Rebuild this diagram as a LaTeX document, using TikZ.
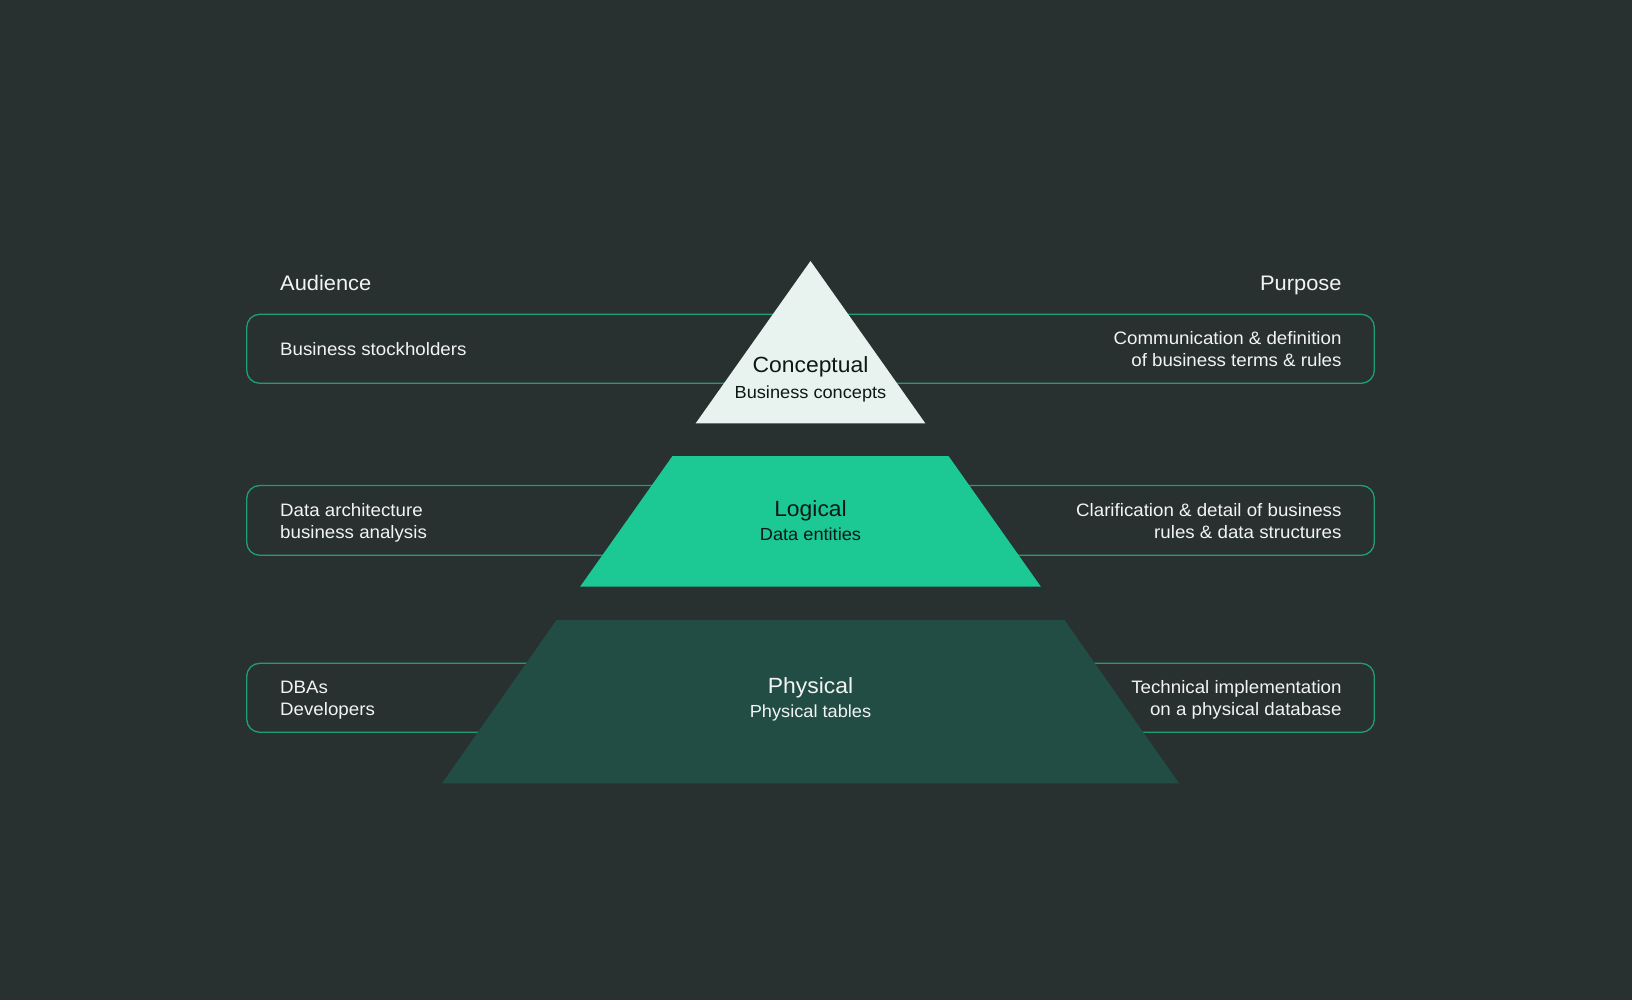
\documentclass[tikz,border=0pt]{standalone}
\usepackage{fontspec}
\setmainfont[FakeStretch=1.04]{Liberation Sans}
\definecolor{bgdark}{HTML}{293030}
\definecolor{rimgreen}{HTML}{1F9E76}
\definecolor{paletop}{HTML}{E8F2EE}
\definecolor{midgreen}{HTML}{1CC894}
\definecolor{deepgreen}{HTML}{224D44}
\definecolor{lighttext}{HTML}{F2F4F3}
\definecolor{darktext}{HTML}{0E1815}
\tikzset{
  rowbox/.style={draw=rimgreen, line width=1.3pt, rounded corners=13pt},
  heading/.style={inner sep=0pt, text=lighttext, font=\fontsize{21}{25}\selectfont},
  lefttext/.style={inner sep=0pt, anchor=base west, align=left, text=lighttext,
    font=\fontsize{18}{22.3}\selectfont},
  righttext/.style={inner sep=0pt, anchor=base east, align=right, text=lighttext,
    font=\fontsize{18}{22.3}\selectfont},
  levelname/.style={inner sep=0pt, anchor=base, font=\fontsize{22}{26}\selectfont},
  levelsub/.style={inner sep=0pt, anchor=base, font=\fontsize{17.5}{21}\selectfont},
}
\begin{document}
\begin{tikzpicture}[x=1pt,y=-1pt]
\useasboundingbox (0,0) rectangle (1632,1000);
\fill[bgdark] (0,0) rectangle (1632,1000);

% column headings
\node[heading, anchor=base west] (audience) at (280,290.7) {Audience};
\node[heading, anchor=base east] (purpose) at (1341.7,290.7) {Purpose};

% row frames, drawn under the pyramid
\draw[rowbox] (246.7,314.3) rectangle (1374.3,383.3);
\draw[rowbox] (246.7,485.5) rectangle (1374.3,555.3);
\draw[rowbox] (246.7,663.3) rectangle (1374.3,732.3);

% pyramid layers
\fill[paletop] (810.5,261) -- (925.3,423.3) -- (695.7,423.3) -- cycle;
\fill[midgreen] (672.5,456) -- (948.5,456) -- (1040.9,586.7) -- (580.1,586.7) -- cycle;
\fill[deepgreen] (556.5,620) -- (1064.5,620) -- (1179,783.3) -- (442,783.3) -- cycle;

% layer labels
\node[levelname, text=darktext] (concname) at (810.5,372.7) {Conceptual};
\node[levelsub, text=darktext] (concsub) at (810.5,398.3) {Business concepts};
\node[levelname, text=darktext] (logname) at (810.5,516) {Logical};
\node[levelsub, text=darktext] (logsub) at (810.5,540) {Data entities};
\node[levelname, text=lighttext] (physname) at (810.5,693.3) {Physical};
\node[levelsub, text=lighttext] (physsub) at (810.5,717.3) {Physical tables};

% audience column (multi-line nodes sit on their last baseline)
\node[lefttext] (aud1) at (280,355) {Business stockholders};
\node[lefttext] (aud2) at (280,538.3) {Data architecture\\business analysis};
\node[lefttext] (aud3) at (280,715.7) {DBAs\\Developers};

% purpose column
\node[righttext] (pur1) at (1341.7,366.7) {Communication \& definition\\of business terms \& rules};
\node[righttext] (pur2) at (1341.7,538.3) {Clarification \& detail of business\\rules \& data structures};
\node[righttext] (pur3) at (1341.7,715.7) {Technical implementation\\on a physical database};
\end{tikzpicture}
\end{document}
